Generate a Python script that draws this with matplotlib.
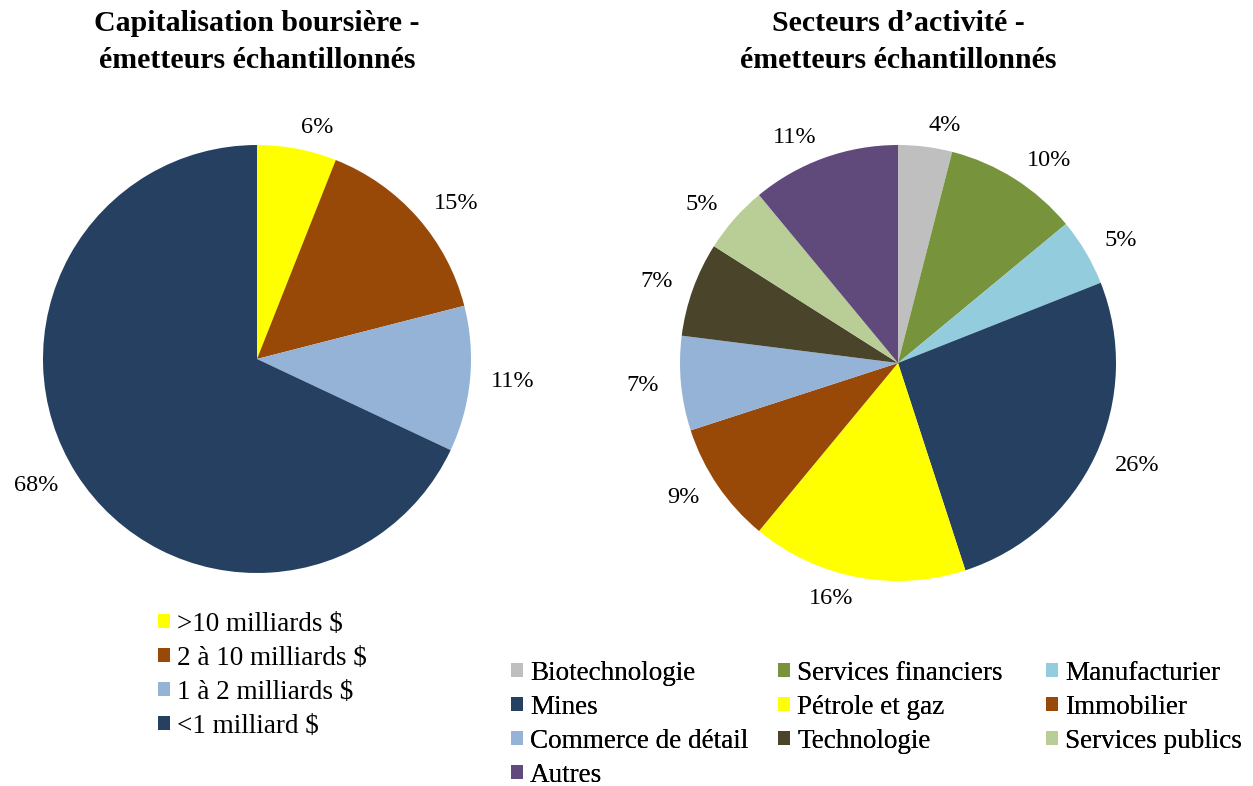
import matplotlib
matplotlib.use("Agg")
import matplotlib.pyplot as plt

plt.rcParams['font.family'] = ['Liberation Serif', 'DejaVu Serif']

cap_labels = [">10 milliards $", "2 à 10 milliards $", "1 à 2 milliards $", "<1 milliard $"]
cap_values = [6, 15, 11, 68]
cap_colors = ["#FFFF00", "#984807", "#95B3D7", "#254061"]

sec_labels = ["Biotechnologie", "Services financiers", "Manufacturier", "Mines",
              "Pétrole et gaz", "Immobilier", "Commerce de détail", "Technologie",
              "Services publics", "Autres"]
sec_values = [4, 10, 5, 26, 16, 9, 7, 7, 5, 11]
sec_colors = ["#BFBFBF", "#77933C", "#93CDDD", "#254061", "#FFFF00", "#984807",
              "#95B3D7", "#4A452A", "#B9CD96", "#604A7B"]

W, H = 1253, 786
fig = plt.figure(figsize=(W / 100, H / 100), dpi=100)

def make_ax(cx, cy, r):
    return fig.add_axes([(cx - r) / W, (H - cy - r) / H, 2 * r / W, 2 * r / H])

ax1 = make_ax(257, 359, 214)
w1, t1 = ax1.pie(cap_values, colors=cap_colors, startangle=90, counterclock=False,
                 labels=[f"{v}%" for v in cap_values], labeldistance=1.1,
                 textprops=dict(fontsize=17.5))
ax1.set_xlim(-1, 1); ax1.set_ylim(-1, 1); ax1.set_aspect('equal'); ax1.axis('off')

ax2 = make_ax(898, 363, 218)
w2, t2 = ax2.pie(sec_values, colors=sec_colors, startangle=90, counterclock=False,
                 labels=[f"{v}%" for v in sec_values], labeldistance=1.1,
                 textprops=dict(fontsize=17.5))
ax2.set_xlim(-1, 1); ax2.set_ylim(-1, 1); ax2.set_aspect('equal'); ax2.axis('off')

fig.text(257 / W, 1 - 42 / H, "Capitalisation boursière -\németteurs échantillonnés",
         ha='center', va='center', fontsize=21.5, fontweight='bold', linespacing=1.45)
fig.text(898 / W, 1 - 42 / H, "Secteurs d\u2019activité -\németteurs échantillonnés",
         ha='center', va='center', fontsize=21.5, fontweight='bold', linespacing=1.45)

leg_kw = dict(frameon=False, fontsize=19.5, handlelength=0.43, handleheight=0.43,
              handletextpad=0.28, labelspacing=0.33, borderaxespad=0, borderpad=0)

fig.legend(w1, cap_labels, loc='upper left', bbox_to_anchor=(158 / W, 1 - 612 / H), **leg_kw)

col_x = [511, 778, 1046]
for c in range(3):
    idx = list(range(c, len(sec_labels), 3))
    leg = fig.legend([w2[i] for i in idx], [sec_labels[i] for i in idx], loc='upper left',
                     bbox_to_anchor=(col_x[c] / W, 1 - 661 / H), **leg_kw)
    fig.add_artist(leg)

fig.savefig("out.png", dpi=100)
